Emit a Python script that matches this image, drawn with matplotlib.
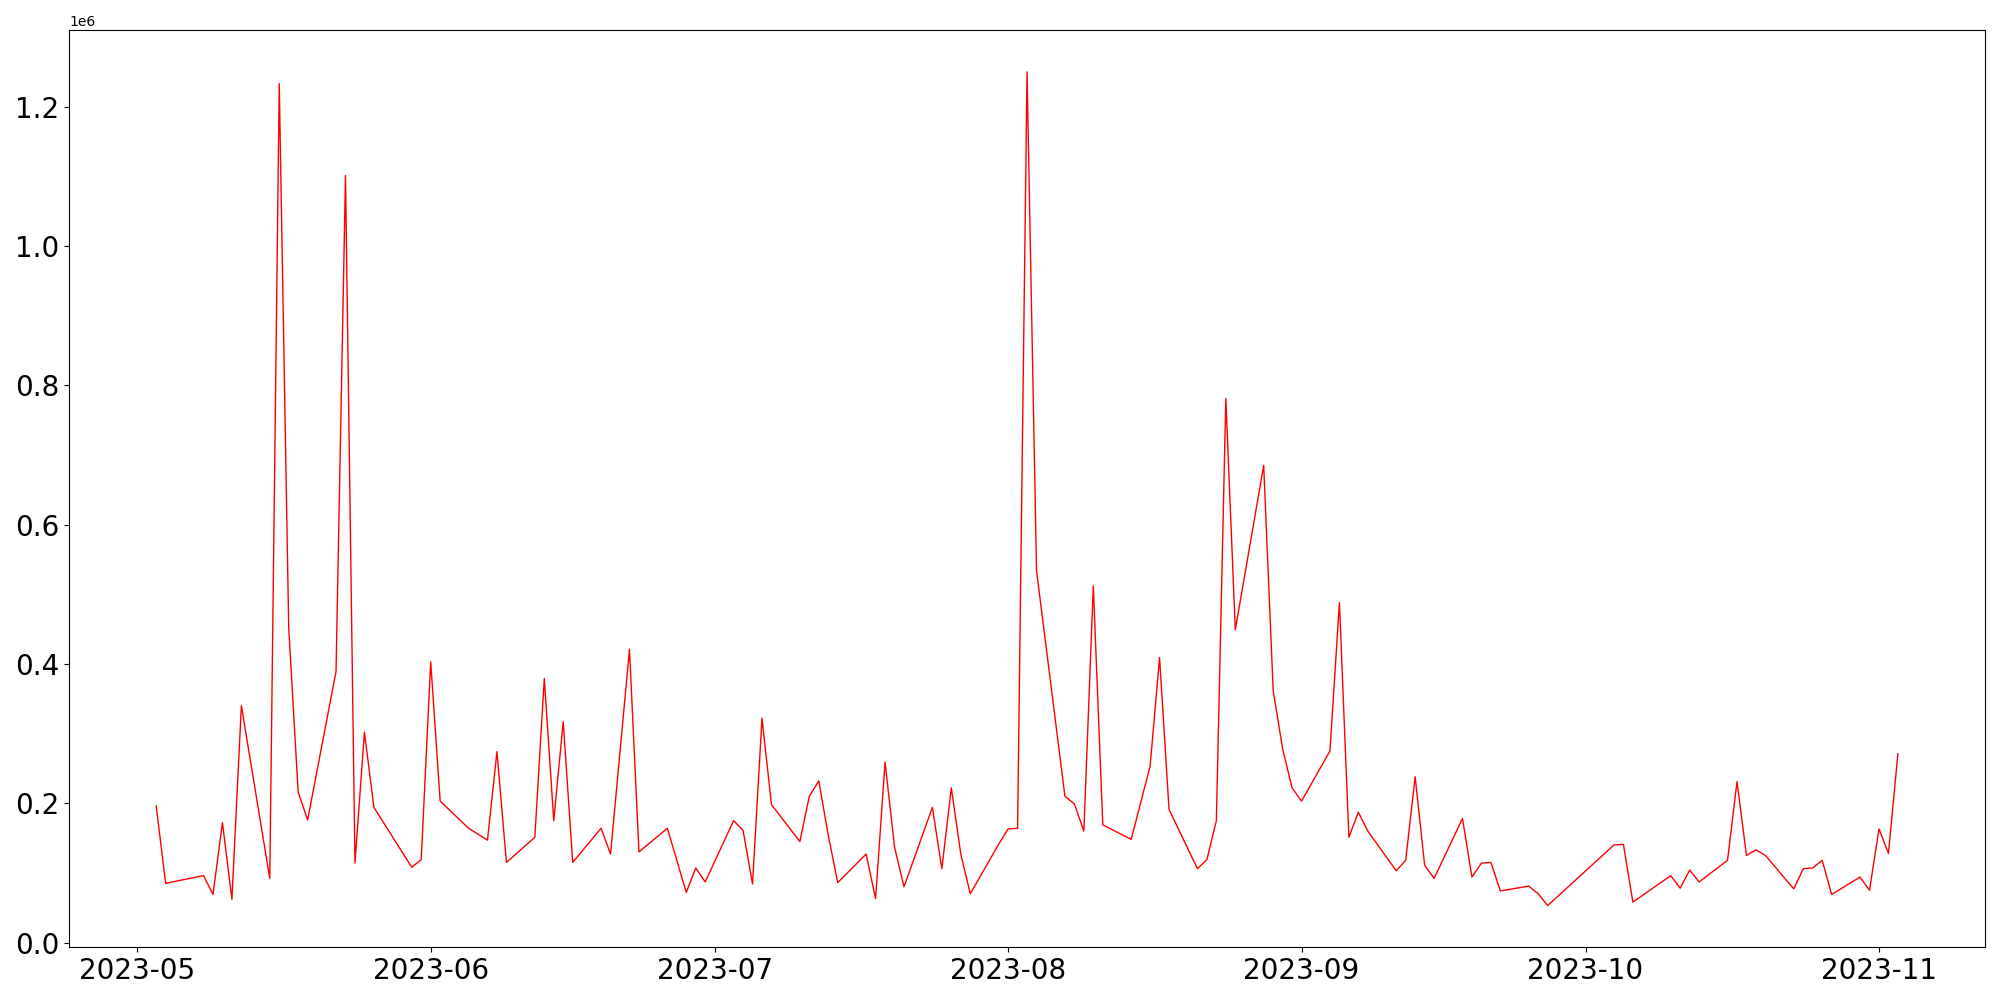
import pandas as pd
import matplotlib
matplotlib.use('Agg')
import matplotlib.pyplot as plt

datas = [
    '2023-05-03', '2023-05-04', '2023-05-08', '2023-05-09', '2023-05-10', '2023-05-11', '2023-05-12',
    '2023-05-15', '2023-05-16', '2023-05-17', '2023-05-18', '2023-05-19',
    '2023-05-22', '2023-05-23', '2023-05-24', '2023-05-25', '2023-05-26',
    '2023-05-30', '2023-05-31', '2023-06-01', '2023-06-02',
    '2023-06-05', '2023-06-07', '2023-06-08', '2023-06-09',
    '2023-06-12', '2023-06-13', '2023-06-14', '2023-06-15', '2023-06-16',
    '2023-06-19', '2023-06-20', '2023-06-22', '2023-06-23',
    '2023-06-26', '2023-06-28', '2023-06-29', '2023-06-30',
    '2023-07-03', '2023-07-04', '2023-07-05', '2023-07-06', '2023-07-07',
    '2023-07-10', '2023-07-11', '2023-07-12', '2023-07-13', '2023-07-14',
    '2023-07-17', '2023-07-18', '2023-07-19', '2023-07-20', '2023-07-21',
    '2023-07-24', '2023-07-25', '2023-07-26', '2023-07-27', '2023-07-28',
    '2023-07-31', '2023-08-01', '2023-08-02', '2023-08-03', '2023-08-04',
    '2023-08-07', '2023-08-08', '2023-08-09', '2023-08-10', '2023-08-11',
    '2023-08-14', '2023-08-16', '2023-08-17', '2023-08-18',
    '2023-08-21', '2023-08-22', '2023-08-23', '2023-08-24', '2023-08-25',
    '2023-08-28', '2023-08-29', '2023-08-30', '2023-08-31', '2023-09-01',
    '2023-09-04', '2023-09-05', '2023-09-06', '2023-09-07', '2023-09-08',
    '2023-09-11', '2023-09-12', '2023-09-13', '2023-09-14', '2023-09-15',
    '2023-09-18', '2023-09-19', '2023-09-20', '2023-09-21', '2023-09-22',
    '2023-09-25', '2023-09-26', '2023-09-27',
    '2023-10-04', '2023-10-05', '2023-10-06',
    '2023-10-10', '2023-10-11', '2023-10-12', '2023-10-13',
    '2023-10-16', '2023-10-17', '2023-10-18', '2023-10-19', '2023-10-20',
    '2023-10-23', '2023-10-24', '2023-10-25', '2023-10-26', '2023-10-27',
    '2023-10-30', '2023-10-31', '2023-11-01', '2023-11-02', '2023-11-03',
]

vendas = [
    196000, 85000, 96000, 69000, 172000, 62000, 340000,
    92000, 1233000, 452000, 216000, 176000,
    389000, 1101000, 114000, 302000, 194000,
    108000, 119000, 403000, 203000,
    164000, 147000, 274000, 115000,
    151000, 379000, 175000, 317000, 115000,
    164000, 127000, 421000, 130000,
    164000, 72000, 107000, 87000,
    175000, 161000, 84000, 322000, 198000,
    145000, 210000, 232000, 154000, 86000,
    127000, 63000, 259000, 137000, 80000,
    194000, 106000, 222000, 127000, 70000,
    141000, 163000, 164000, 1250000, 534000,
    210000, 199000, 160000, 512000, 169000,
    148000, 253000, 409000, 191000,
    106000, 119000, 175000, 781000, 449000,
    685000, 362000, 278000, 222000, 203000,
    275000, 488000, 151000, 187000, 160000,
    103000, 118000, 238000, 111000, 92000,
    178000, 94000, 114000, 115000, 74000,
    81000, 70000, 53000,
    140000, 141000, 58000,
    96000, 78000, 104000, 87000,
    118000, 231000, 125000, 133000, 125000,
    77000, 106000, 107000, 118000, 69000,
    94000, 75000, 163000, 128000, 271000,
]

df = pd.DataFrame({'Data': pd.to_datetime(datas), 'Vendas': vendas})
df.sort_values(by='Data', inplace=True)

plt.figure(figsize=(20, 10))
plt.plot(df['Data'], df['Vendas'], color='red', linewidth=1)
plt.xticks(fontsize=20)
plt.yticks(fontsize=20)
plt.tight_layout()
plt.savefig('out.png', dpi=100)
